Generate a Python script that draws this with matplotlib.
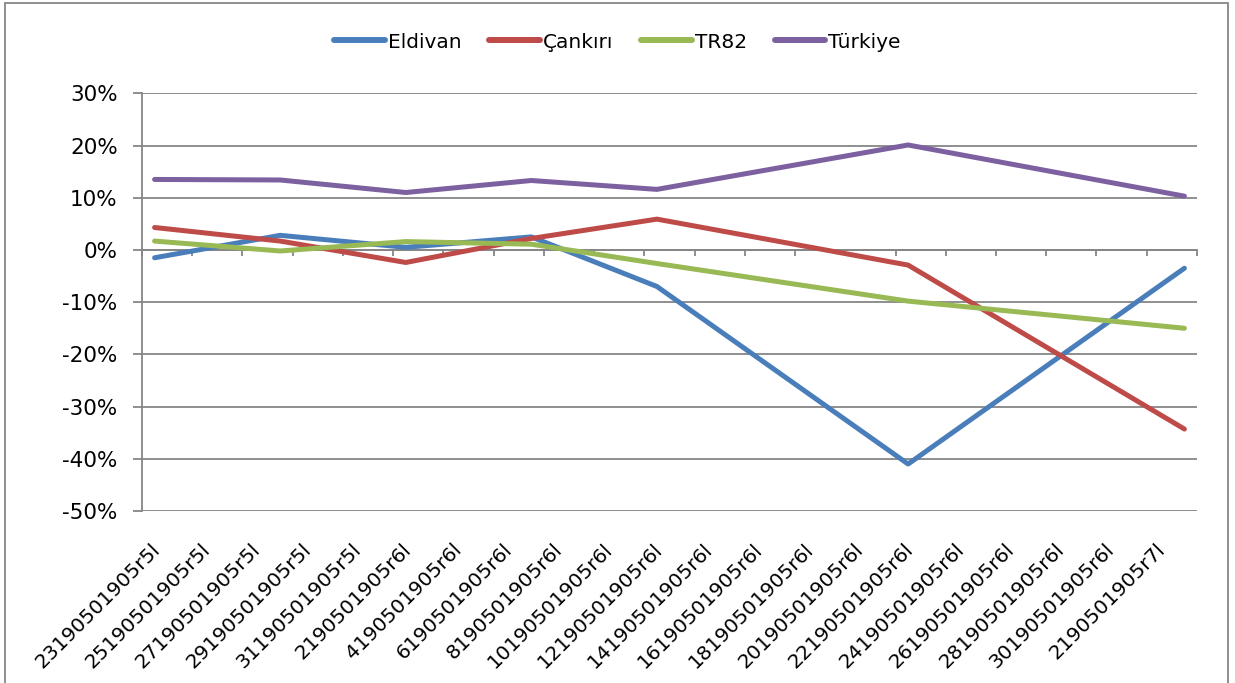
import matplotlib
matplotlib.use("Agg")
import matplotlib.pyplot as plt
import matplotlib.patches
import matplotlib.dates as mdates
import pandas as pd

# data (percent)
dates = ["2019-05-23", "2019-05-28", "2019-06-02", "2019-06-07", "2019-06-12", "2019-06-22", "2019-07-03"]
eldivan = [-1.5, 2.8, 0.5, 2.5, -7.0, -41.0, -3.5]
cankiri = [4.3, 1.7, -2.4, 2.2, 5.9, -2.9, -34.3]
tr82 = [1.7, -0.2, 1.6, 1.1, -2.6, -9.8, -15.0]
turkiye = [13.5, 13.4, 11.0, 13.3, 11.6, 20.1, 10.3]

series_names = ["Eldivan", "Çankırı", "TR82", "Türkiye"]
series_colors = ["#4A7EBB", "#BE4B48", "#98B954", "#7D60A0"]

tick_labels = ["23190501905r5l", "25190501905r5l", "27190501905r5l", "29190501905r5l", "31190501905r5l",
               "2190501905r6l", "4190501905r6l", "6190501905r6l", "8190501905r6l", "10190501905r6l",
               "12190501905r6l", "14190501905r6l", "16190501905r6l", "18190501905r6l", "20190501905r6l",
               "22190501905r6l", "24190501905r6l", "26190501905r6l", "28190501905r6l", "30190501905r6l",
               "2190501905r7l"]

plt.rcParams['font.family'] = ['DejaVu Sans']
grey = "#868686"
font_size = 14.5

x = mdates.date2num(pd.to_datetime(dates))
label_x = mdates.date2num(pd.date_range(dates[0], periods=len(tick_labels), freq="2D"))

figure = plt.figure(figsize=(12.35, 6.83), dpi=100)
axis_system = figure.add_axes([0.115, 0.2518, 0.9692 - 0.115, 0.8634 - 0.2518])

for values, name, color in zip([eldivan, cankiri, tr82, turkiye], series_names, series_colors):
    axis_system.plot(x, values, color=color, linewidth=3.6, solid_capstyle='round',
                     solid_joinstyle='round', label=name, zorder=3)

axis_system.set_xlim(x[0] - 0.5, label_x[-1] + 1.5)
axis_system.set_ylim(-50, 30)
axis_system.set_yticks(range(-50, 31, 10))
axis_system.set_yticklabels([str(v) + "%" for v in range(-50, 31, 10)], fontsize=15.5)
axis_system.yaxis.grid(True, color=grey, linewidth=1.3)
axis_system.set_axisbelow(True)

for side in ['top', 'right']:
    axis_system.spines[side].set_visible(False)
axis_system.spines['left'].set_color(grey)
axis_system.spines['left'].set_linewidth(1.3)
axis_system.spines['bottom'].set_position(('data', 0))
axis_system.spines['bottom'].set_color(grey)
axis_system.spines['bottom'].set_linewidth(1.3)

axis_system.set_xticks(list(label_x - 0.5) + [label_x[-1] + 1.5])
axis_system.set_xticklabels([])
axis_system.tick_params(axis='x', direction='out', length=4.5, width=1.3, color=grey)
axis_system.tick_params(axis='y', direction='out', length=6.5, width=1.3, color=grey, pad=11)

for lx, text in zip(label_x, tick_labels):
    axis_system.text(lx + 0.1, -0.085, text, transform=axis_system.get_xaxis_transform(), rotation=45,
                     rotation_mode='anchor', ha='right', va='center', fontsize=font_size)

legend = figure.legend(loc='center', bbox_to_anchor=(0.5, 1 - 42 / 683), ncol=4, frameon=False,
                       fontsize=font_size, handlelength=2.5, handletextpad=0.15, columnspacing=1.4)
for handle in legend.get_lines():
    handle.set_linewidth(4.3)

figure.patches.append(matplotlib.patches.Rectangle((5 / 1235, -0.01), 1223 / 1235, 1.01 - 3 / 683,
                                                   transform=figure.transFigure, fill=False,
                                                   edgecolor=grey, linewidth=1.3))

figure.savefig("out.png", dpi=100)
